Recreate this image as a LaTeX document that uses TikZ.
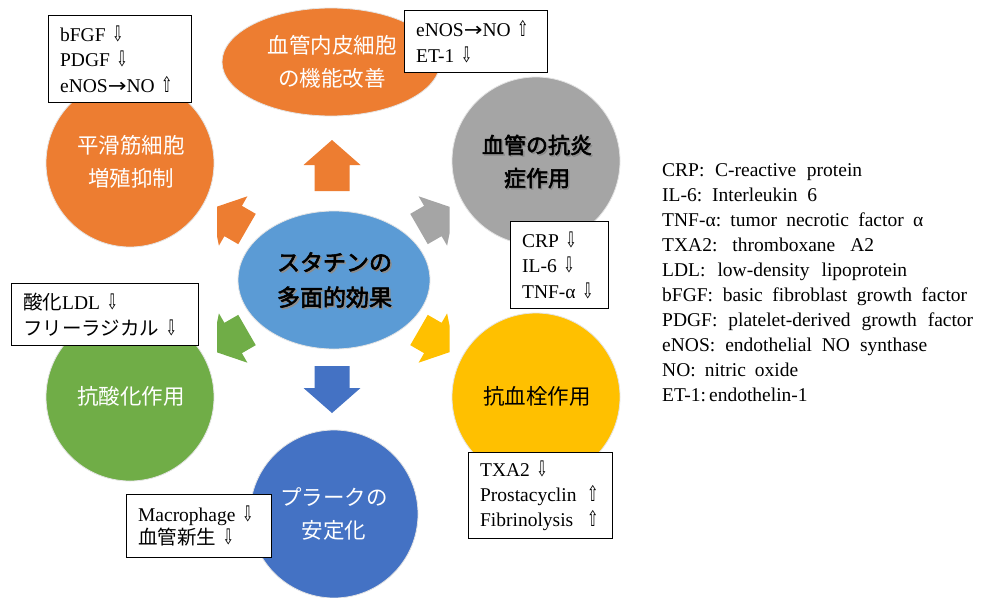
\documentclass[tikz,border=0pt]{standalone}
\usepackage{fontspec}
\usepackage{graphicx}
\setmainfont{Liberation Serif}
\newfontfamily\jp[AutoFakeBold=2.5]{Noto Sans CJK JP}
\newfontfamily\symfnt{DejaVu Sans}
\usetikzlibrary{shapes.geometric}
\frenchspacing
\definecolor{corange}{HTML}{ED7D31}
\definecolor{cgrey}{HTML}{A5A5A5}
\definecolor{cyellow}{HTML}{FFC000}
\definecolor{cgreen}{HTML}{70AD47}
\definecolor{cblue}{HTML}{4472C4}
\definecolor{clblue}{HTML}{5B9BD5}
\definecolor{crim}{HTML}{E4E4E4}
\newcommand{\myDn}{{\symfnt\scalebox{0.7}[1.1]{⇩}}}
\newcommand{\myUp}{{\symfnt\scalebox{0.7}[1.1]{⇧}}}
\newcommand{\myTo}{{\symfnt\scalebox{1.15}[1]{→}}}
\newcommand{\bigArrowShape}[4]{%
  \fill[#4, shift={#1}, rotate=#2] (0,-17.5) -- (#3,-17.5) -- (#3,-28.5) -- ({#3+25},0) -- (#3,28.5) -- (#3,17.5) -- (0,17.5) -- cycle;}
\tikzset{
  circ/.style={circle, minimum size=168, inner sep=0, draw=crim, line width=0.8},
  ctext/.style={font=\jp\fontsize{21.5}{33}\selectfont, align=center, inner sep=0},
  btext/.style={font=\jp\bfseries\fontsize{22}{33}\selectfont, align=center, inner sep=0},
  infobox/.style={draw=black, line width=1.2, fill=white, anchor=north west, align=left,
    inner xsep=11.5, inner ysep=0, font=\fontsize{19.5}{25.5}\selectfont},
  legend/.style={anchor=west, inner sep=0, text height=14, text depth=4, font=\fontsize{19.5}{25}\selectfont}
}
\begin{document}
\begin{tikzpicture}[x=1pt, y=-1pt]
\useasboundingbox (0,0) rectangle (981,597);
\fill[white] (0,0) rectangle (981,597);

% circles
\node[ellipse, minimum width=218, minimum height=108, inner sep=0, draw=crim, line width=0.8, fill=corange] (endo) at (331,62) {};
\node[circ, fill=corange] (smc) at (130,163) {};
\node[circ, fill=cgrey] (infl) at (536,161) {};
\node[circ, fill=cyellow] (thromb) at (536,397) {};
\node[circ, fill=cgreen] (antiox) at (130,397) {};
\node[circ, fill=cblue] (plaque) at (334,514) {};
\node[ellipse, minimum width=192, minimum height=138, inner sep=0, draw=crim, line width=0.8, fill=clblue] (center) at (334,280) {};

% circle texts
\node[ctext, text=white] (endot) at (332,61.5) {血管内皮細胞\\の機能改善};
\node[ctext, text=white] (smct) at (131,161.5) {平滑筋細胞\\増殖抑制};
\node[ctext, text=white] (antioxt) at (131,396) {抗酸化作用};
\node[ctext, text=black] (thrombt) at (537,396) {抗血栓作用};
\node[ctext, text=white] (plaquet) at (334,513.5) {プラークの\\安定化};
\node[btext, text=black!45, font=\jp\bfseries\fontsize{22}{33}\selectfont] (inflts) at (538.5,163) {血管の抗炎\\症作用};
\node[btext, text=black] (inflt) at (537,161.5) {血管の抗炎\\症作用};
\node[btext, text=black!45, font=\jp\bfseries\fontsize{23}{35}\selectfont] (centerts) at (336,281.5) {スタチンの\\多面的効果};
\node[btext, text=black, font=\jp\bfseries\fontsize{23}{35}\selectfont] (centert) at (334.5,280) {スタチンの\\多面的効果};

% block arrows
\bigArrowShape{(332,191)}{90}{26}{corange}
\bigArrowShape{(332,366)}{-90}{22}{cblue}
\begin{scope}
\clip (217,0) rectangle (449.5,597);
\bigArrowShape{(247,229)}{150}{16}{corange}
\bigArrowShape{(419,229)}{30}{16}{cgrey}
\bigArrowShape{(247,330)}{210}{16}{cgreen}
\bigArrowShape{(419,330)}{-30}{16}{cyellow}
\end{scope}

% info boxes
\node[infobox, minimum width=143, minimum height=87, text width=120] (b1) at (48,15)
  {bFGF \myDn\\PDGF \myDn\\eNOS\myTo NO \myUp};
\node[infobox, minimum width=143, minimum height=62, text width=120] (b2) at (404,10)
  {eNOS\myTo NO \myUp\\ET-1 \myDn};
\node[infobox, minimum width=98, minimum height=87, text width=75] (b3) at (510,221)
  {CRP \myDn\\IL-6 \myDn\\TNF-α \myDn};
\node[infobox, minimum width=187, minimum height=62, text width=164] (b4) at (11,283)
  {{\jp 酸化}LDL \myDn\\{\jp フリーラジカル} \myDn};
\node[infobox, minimum width=145, minimum height=63, text width=122, font=\fontsize{19.5}{23.5}\selectfont] (b5) at (126,494)
  {Macrophage \myDn\\{\jp 血管新生} \myDn};
\node[infobox, minimum width=144, minimum height=86, text width=121, font=\fontsize{19.5}{25}\selectfont] (b6) at (468,452)
  {TXA2 \myDn\\\makebox[107pt][l]{Prostacyclin}\myUp\\\makebox[107pt][l]{Fibrinolysis}\myUp};

% legend
\node[legend] (l1) at (662,171) {\makebox[200pt][s]{CRP: C-reactive protein}};
\node[legend] (l2) at (662,196.1) {\makebox[155pt][s]{IL-6: Interleukin 6}};
\node[legend] (l3) at (662,221.2) {\makebox[261pt][s]{TNF-α: tumor necrotic factor α}};
\node[legend] (l4) at (662,246.3) {\makebox[212pt][s]{TXA2: thromboxane A2}};
\node[legend] (l5) at (662,271.4) {\makebox[245pt][s]{LDL: low-density lipoprotein}};
\node[legend] (l6) at (662,296.5) {\makebox[305pt][s]{bFGF: basic fibroblast growth factor}};
\node[legend] (l7) at (662,321.6) {\makebox[311pt][s]{PDGF: platelet-derived growth factor}};
\node[legend] (l8) at (662,346.7) {\makebox[265pt][s]{eNOS: endothelial NO synthase}};
\node[legend] (l9) at (662,371.8) {\makebox[136pt][s]{NO: nitric oxide}};
\node[legend] (l10) at (662,396.9) {\makebox[145pt][s]{ET-1: endothelin-1}};
\end{tikzpicture}
\end{document}
